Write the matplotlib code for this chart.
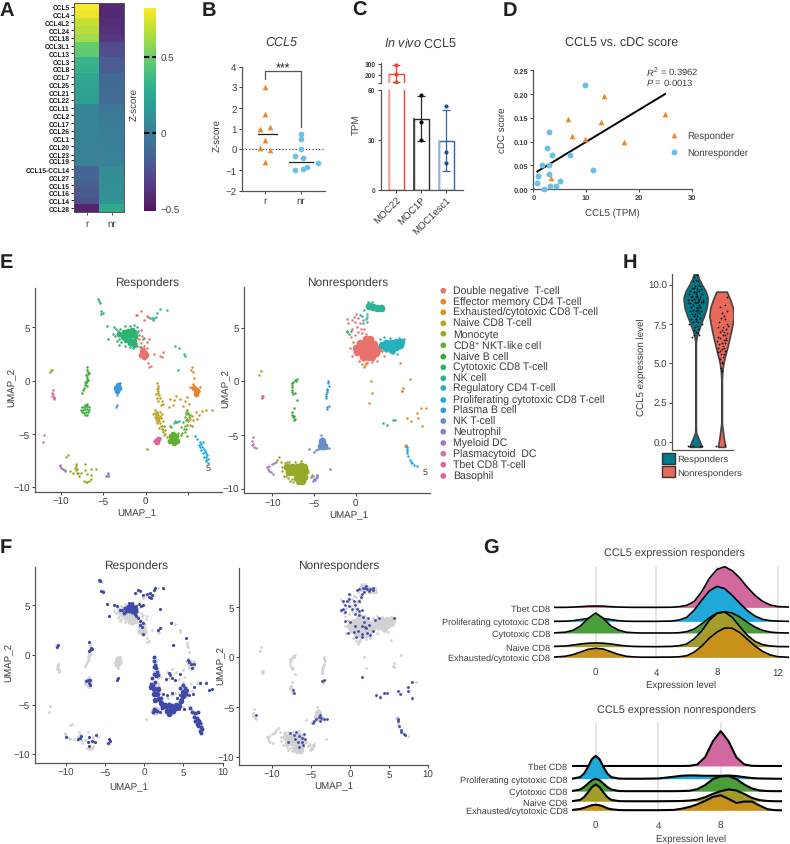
import numpy as np
import matplotlib
matplotlib.use('Agg')
import matplotlib.pyplot as plt
from matplotlib.patches import Patch

plt.rcParams['font.family'] = ['Liberation Sans', 'DejaVu Sans']
plt.rcParams['mathtext.fontset'] = 'custom'
plt.rcParams['mathtext.rm'] = 'Liberation Sans'
plt.rcParams['mathtext.it'] = 'Liberation Sans:italic'
plt.rcParams['text.hinting'] = 'none'

W, H = 790, 845
GREY = '#3d3d3d'

# panel A
ccl_names = ['CCL5', 'CCL4', 'CCL4L2', 'CCL24', 'CCL18', 'CCL3L1', 'CCL13', 'CCL3', 'CCL8', 'CCL7', 'CCL25',
             'CCL21', 'CCL22', 'CCL11', 'CCL2', 'CCL17', 'CCL26', 'CCL1', 'CCL20', 'CCL23', 'CCL19',
             'CCL15-CCL14', 'CCL27', 'CCL15', 'CCL16', 'CCL14', 'CCL28']
ccl_r = [0.80, 0.78, 0.70, 0.66, 0.62, 0.48, 0.47, 0.33, 0.31, 0.24, 0.23, 0.22, 0.21, 0.06, 0.05, 0.05, 0.04,
         0.03, 0.03, 0.02, 0.02, -0.14, -0.14, -0.17, -0.20, -0.23, -0.45]
ccl_nr = [-0.42, -0.42, -0.40, -0.39, -0.36, -0.27, -0.26, -0.18, -0.18, -0.12, -0.11, -0.10, -0.10, -0.03,
          -0.02, -0.01, -0.01, 0.01, 0.01, 0.02, 0.02, 0.09, 0.09, 0.10, 0.11, 0.13, 0.26]

# panel B
b_r = [3.0, 1.7, 1.0, 1.07, 0.47, 0.07, -0.03, -0.6]
b_r_pos = [1, 1, 0.86, 1.14, 1, 0.86, 1.14, 1]
b_nr = [0.72, 0.48, 0.03, -0.32, -0.42, -1.02, -0.97, -0.87, -0.65]
b_nr_pos = [2, 2, 2, 1.83, 2.05, 1.83, 2.05, 2.16, 2.47]
b_r_mean = 0.75
b_nr_mean = -0.63

# panel C
c_names = ['MOC22', 'MOC1P', 'MOC1esc1']
c_means = [205, 42.3, 29.3]
c_low = [135, 29, 11.5]
c_high = [290, 56.5, 48]
c_pts = [[290, 205, 135], [57, 40.5, 29.8], [50, 22.5, 16]]
c_cols = ['#e8483a', '#2b2b2b', '#2f62b0']
c_left = ['#f5a89f', '#444444', '#9dbbe0']
c_dots = ['#e8483a', '#111111', '#1f4e9c']

# panel D
d_r_x = [13.33, 6.63, 7.33, 12.89, 9.79, 17.12, 24.95, 3.35]
d_r_y = [0.196, 0.1475, 0.112, 0.141, 0.105, 0.098, 0.157, 0.024]
d_n_x = [9.85, 3.03, 2.59, 3.6, 7.0, 1.64, 2.9, 0.95, 2.9, 0.63, 1.96, 3.22, 4.36, 5.0, 11.24]
d_n_y = [0.219, 0.119, 0.087, 0.072, 0.072, 0.05, 0.051, 0.027, 0.032, 0.012, 0.0, 0.006, 0.006, 0.017, 0.041]
d_fit_x = [0.76, 24.95]
d_fit_y = [0.037, 0.2]

# panel E legend
cell_types = ['Double negative  T-cell', 'Effector memory CD4 T-cell', 'Exhausted/cytotoxic CD8 T-cell',
              'Naive CD8 T-cell', 'Monocyte', 'CD8$^{+}$ NKT-like cell', 'Naive B cell', 'Cytotoxic CD8 T-cell',
              'NK cell', 'Regulatory CD4 T-cell', 'Proliferating cytotoxic CD8 T-cell', 'Plasma B cell',
              'NK T-cell', 'Neutrophil', 'Myeloid DC', 'Plasmacytoid  DC', 'Tbet CD8 T-cell', 'Basophil']
cell_cols = ['#e9736c', '#e58532', '#de8f1f', '#b9a31f', '#97a928', '#62af33', '#3baa35', '#2fb170', '#2eb39a',
             '#26b0bb', '#13aedf', '#3a9ad9', '#6b8ccb', '#8b7fc0', '#a977b8', '#c871ac', '#dd65a2', '#e2629a']

# responders UMAP, one list per cluster
r_dn = [(0.4, 1.3), (0.6, 1.4), (-1.1, 6.2), (-1, 6.2), (-0.6, 6.5), (0.1, 6.1), (0.3, 6), (-0.2, 5.7), (-1.3, 4.7),
        (-1, 4.5), (-0.5, 4.8), (-0.4, 4.2), (-0.2, 4), (0.4, 3.9), (0.2, 3.6), (-0.8, 3.9), (-0.6, 3.5), (-1, 4),
        (1, 2.5), (1.7, 2.3), (2.1, 2.7), (1.9, 2.2), (-1.2, 3.4), (-0.7, 3.2), (0.3, 1.7), (-0.2, 3.3), (0.1, 3.1)]
r_dn_core = [(-0.4, 2.8), (-0.1, 2.6), (-0.5, 2.4), (-0.2, 2.2), (0, 2.4), (-0.3, 2.9)]
r_em = [(5.45, 1.25), (5.4, 1), (5.6, 0.8), (5.7, 0.3), (5.6, -0.3), (6.4, -0.6), (5.5, -0.7), (5.3, -0.6), (5.7, -0.5), (6.2, -0.8),
        (6.3, -1)]
r_em_core = [(5.7, -0.7), (5.9, -0.9), (6.1, -1.0), (5.95, -1.2)]
r_ex = [(2.9, -1.7), (3.3, -1.8), (3.6, -1.4), (4.1, -1.7), (4.6, -1.9), (4.9, -1.5), (5.1, -2.2), (4.4, -2.4),
        (3.2, -2.3), (7.1, -2.7), (7.9, -2.7), (6.3, -3.2), (6.1, -3.6), (5.6, -3.7), (5.3, -4.1), (5.5, -3.3),
        (2.8, -2.5), (6.7, -2.8), (5.9, -2.9), (5.2, -3.6)]
r_nv = [(1.4, -0.2), (1.5, -0.5), (1.4, -0.8), (1.5, -1), (1.2, -1.2), (1.6, -1.3), (1.3, -1.6), (1.7, -1.6),
        (1.5, -1.9), (1.9, -1.9), (1.8, -2.3), (2.1, -2.2), (1.1, -2.7), (1.4, -2.9), (1.7, -2.9), (0.9, -3.1),
        (1.2, -3.2), (1.5, -3.2), (1.9, -3.1), (1.2, -3.6), (1.5, -3.6), (1.8, -3.5), (2, -3.8), (1.4, -4),
        (1.7, -4), (1.6, -4.4), (1.9, -4.5), (2.1, -4.8), (2.3, -5), (2.5, -5.3), (2.2, -5.1), (1.1, -3.4), (1.7, -3.3),
        (1.6, -3.8), (1.3, -3.4), (2.3, -4.6), (1.35, -3.05), (1.05, -3.0), (1.55, -3.45), (1.9, -4.2), (1.45, -1.1), (1.5, -0.7),
        (1.35, -3.75), (1.8, -4.25), (2.0, -4.6)]
r_mono = [(-8.3, -7.8), (-8.2, -8), (-8.1, -8.3), (-8.3, -8.4), (-8.6, -8.6), (-8.9, -8.5), (-8, -8.6), (-7.9, -8.9),
          (-7.2, -7.8), (-7.2, -8.4), (-6.5, -8.3), (-5.9, -8.3), (-6.9, -8.7), (-6.5, -8.8), (-7.3, -9.4),
          (-7.1, -9.5), (-6.9, -9.5), (-6.7, -9.4), (-6.5, -9.2), (-7.6, -8.6), (-9.2, -7), (-9.4, -7.1),
          (-11.3, 0.8), (-11.2, 1), (-11.1, 1.05), (-8.4, -8.2), (-8.1, -8.6)]
r_nkt = [(3.8, -4.9), (4.2, -5.1), (4.6, -4.8), (4.8, -4.5), (4.9, -4.1), (4.8, -3.7), (5.1, -3.4), (5, -3),
         (5.3, -3.2), (4.8, -2.9), (3, -4.3), (2.9, -4.2), (4.2, -4.3), (2.2, -4.2), (5.5, -4.2), (0.2, -6.4),
         (4.5, -4.5), (4.7, -3.4), (4.4, -3.9), (5, -3.8), (4.9, -2.7), (4.9, -5.2), (4.3, -4.9), (5.05, -3.15), (4.95, -3.55),
         (4.75, -3.1), (4.7, -4.2)]
r_nkt_core = [(3.3, -5.4), (3.0, -5.2), (3.6, -5.2), (2.9, -5.6), (3.3, -5.8), (3.7, -5.6), (3.2, -5.0)]
r_b = [(-6.9, 1.3), (-6.9, 1), (-6.85, 0.8), (-6.8, 0.6), (-6.9, 0.4), (-7, 0.2), (-7, 0), (-7.1, -0.2), (-7.2, -0.4),
       (-7.3, -0.7), (-7.4, -0.9), (-7.0, -0.5), (-7.5, -1.1), (-7.5, -2.5), (-7.2, -2.3), (-6.9, -2.4),
       (-7.0, -2.2), (-6.7, 0.7), (-7.1, 0.5), (-6.8, 0.1), (-7.2, -0.1), (-7.6, -2.7), (-7.4, -2.7), (-7.2, -2.6), (-6.95, -2.6),
       (-6.75, -2.7), (-7.5, -2.95), (-7.3, -3.0), (-7.05, -2.9), (-6.85, -2.95), (-7.2, -3.25), (-6.95, -3.2), (-7.3, -2.45),
       (-7.05, -2.4), (-6.75, -2.5)]
r_cyto = [(-4.6, 5.1), (-3.7, 5), (-4.5, 3.9), (-3.5, 4.9), (-0.8, 4.3), (-1, 3.3), (-0.5, 3.2), (-5.6, 7.7), (-5.5, 7.5),
          (-5.4, 7.3), (-5.3, 6.5), (-5.1, 6.4), (-5.3, 6.3), (-3.4, 3.7), (-3.1, 3.4), (-2.5, 3.3), (-1.9, 3.2),
          (-1.5, 3.1), (-0.3, 3.9), (-3.9, 4.4), (-3.6, 4.2), (-3.3, 4.7), (-3, 4.9), (-2.5, 5.1), (-1.9, 5.15), (-1.4, 5.2), (-1, 5),
          (-3.2, 3.9), (-2.9, 3.6), (-1.1, 3.5), (-0.9, 4.7)]
r_cyto_core = [(-3.1, 4.4), (-2.6, 4.6), (-2.1, 4.7), (-1.6, 4.75), (-1.35, 4.6), (-2.7, 4.1), (-2.2, 4.25), (-1.7, 4.3),
               (-1.25, 4.2), (-2.3, 3.8), (-1.8, 3.85), (-1.35, 3.75), (-1.85, 3.5), (-1.4, 3.4)]
r_nk = [(1, 5.9), (0.7, 5.9), (1.2, 6), (1.3, 6.4), (0.9, 5.7), (1.7, 6.7), (2.5, 6.6), (3.5, 3.3), (3.9, 3.1),
        (4.5, 2.5), (4.6, 2.3), (3.8, 1), (3.7, -3.9), (3.4, -4), (3.9, -3.8), (3.6, -3.9), (3.5, -3.8), (0.5, 5.9)]
r_pro = [(5.8, -5.2), (6.1, -5.5), (6.4, -5.7), (6.8, -5.7), (6.3, -6), (6.7, -6.2), (6.5, -6.5), (6.9, -6.4),
         (6.8, -6.8), (7.1, -6.8), (7.2, -7.1), (6.9, -7.1), (7.4, -7.3), (7.1, -7.5), (7.4, -7.7), (7.0, -6.6),
         (7.3, -7), (6.6, -5.9), (6.4, -6.2), (7.2, -7.4)]
r_pb = [(-3.4, -1.3), (-3.4, -2.3), (-3.5, -2.5), (-3.05, -0.2), (-3.65, -0.55)]
r_pb_core = [(-3.5, -0.7), (-3.3, -0.4), (-3.2, -0.7), (-3.45, -0.95)]
r_neu = [(-4.7, -8.9), (-4.5, -8.9), (-4.4, -8.7), (-4.4, -8.6), (-4.5, -8.95)]
r_mye = [(-10.1, -8), (-10, -8.2), (-9.8, -8.3), (-9.6, -8.4), (-9.5, -8.5), (-10.1, -7.9)]
r_pdc = [(-12, -5.1), (-12.1, -5.7)]
r_tbet = [(-11, -0.9), (-11.1, -1.1), (-11, -1.2), (-10.9, -1.5), (-10.9, -1.6), (-11.1, -1.4), (-10.8, -1.7), (1.0, -5.6), (1.7, -5.4)]
r_tbet_core = [(1.2, -5.6), (1.45, -5.45), (1.4, -5.7)]

# nonresponders UMAP
n_dn = [(0, 6.3), (-0.2, 6), (-1.1, 5.8), (-0.9, 5.4), (-0.5, 5.7), (-0.1, 5.5), (0.3, 5.9), (0.5, 5.4), (0.9, 5.7),
        (0.1, 5.1), (0.6, 4.9), (1, 4.9), (-0.5, 4.9), (0.3, 4.6), (0.8, 4.5), (1.2, 4.4), (-0.1, 4.3), (-0.6, 4.1),
        (-0.3, 3.7), (3.1, 2.8), (3.4, 2.4), (2.6, 1.9), (2, 1.8), (1.3, 1.7), (0.4, 1.9), (-0.5, 2.4), (-0.7, 3.1)]
n_dn_core = [(1.2, 3.9), (1.7, 3.9), (0.5, 3.55), (1, 3.6), (1.6, 3.6), (2.2, 3.5), (0, 3.1), (0.5, 3.1), (1.1, 3.1),
             (1.7, 3.1), (2.3, 3.1), (2.7, 3.0), (0.2, 2.7), (0.7, 2.6), (1.3, 2.6), (1.9, 2.6), (2.4, 2.6),
             (0.9, 2.3), (1.5, 2.25), (2.0, 2.3)]
n_em = [(5.5, -0.9), (5.7, -0.6), (6.5, 0.2), (5.3, 1.7), (0.9, 2), (1.2, 1.7), (0.8, 1.6), (1, 1.3), (6, -6), (5.95, -6.05),
        (6.05, -5.95), (5.6, -0.95), (1.1, 1.5)]
n_ex = [(1.8, 0), (2, -1.1), (1.6, -2), (6.2, -3.4), (6.6, -3.7), (7.5, -3.4), (7.3, -3), (7.8, -2.5), (8.4, -2.5), (8, -4.2)]
n_mono = [(-9.2, -7.1), (-9.5, -7.3), (-9, -7.5), (-8.5, -7.6), (-8.8, -8.4), (-8.6, -8.8), (-8.1, -9), (-7.7, -9.1),
          (-8.9, -8), (-7.5, -9.4), (-5.3, -8.7), (-5.1, -8.8), (-11.6, 0.6), (-11.4, 1), (-5.7, -8.5), (-8.3, -7.5),
          (-8.4, -8.8), (-8, -7.5), (-7.3, -7.5), (-6.6, -7.4), (-7.9, -9.3)]
n_mono_core = [(-8.2, -8), (-7.7, -7.95), (-7.1, -7.95), (-6.6, -7.85), (-6.25, -8), (-8, -8.5), (-7.5, -8.5), (-6.95, -8.5),
               (-6.4, -8.5), (-6.1, -8.4), (-7.1, -9), (-6.6, -9), (-6.25, -8.9), (-6.75, -9.3), (-6.4, -9.3)]
n_b = [(-7.1, 0.2), (-7.3, 0.1), (-7.5, -0.1), (-7.6, -0.3), (-7.7, -0.5), (-7.7, -0.8), (-7.6, -1), (-7.5, -1.2),
       (-7.3, -1.1), (-7, -1.7), (-7.4, -2.5), (-7.6, -2.9), (-7.7, -3.1), (-7.5, -3.3), (-7.4, -3.6), (-7.3, -3.5),
       (-7.4, -3.2), (-7.2, 0), (-7.65, -0.2)]
n_cyto = [(-1.1, 4.6), (-0.8, 4.4), (-1, 4.7), (-0.6, 4.7)]
n_nk = [(3.3, -3.9), (3.8, -4.1), (4.5, -3.6), (4.7, -3.6), (1.3, 6.3), (1.4, 6), (1.2, 5.8), (0.9, 5.4), (1.3, 5.5),
        (0.8, 6.1), (0.5, 6.2), (1.5, 7.4), (1.9, 7.4), (1.0, 6.6), (3.2, 7), (3.3, 6.6), (1.5, 6.8)]
n_nk_core = [(1.6, 7.0), (2.1, 6.95), (2.6, 6.8), (3.0, 6.8)]
n_reg = [(2.9, 3.9), (3.4, 4.1), (4.1, 4), (5.2, 4), (5.8, 3.9), (4.5, 2.6), (4.9, 2.5), (3.6, 2.8)]
n_reg_core = [(3.1, 3.4), (3.6, 3.6), (4.2, 3.6), (4.8, 3.7), (5.4, 3.7), (3.6, 3.1), (4.2, 3.1), (4.8, 3.2), (5.3, 3.4), (4.3, 2.9)]
n_pro = [(6.1, -6.1), (6.2, -6.3), (6.2, -6.7), (6.3, -7), (6.5, -7.3), (6.8, -7.6), (7, -7.8), (7.4, -7.9), (6.15, -6.5), (6.6, -7.5)]
n_pb = [(-3.3, 0), (-3.3, -0.2), (-3.2, -0.4), (-3.4, -0.7), (-3.5, -1), (-3.6, -1.4), (-3.6, -1.6), (-3.5, -2.4),
        (-3.5, -2.6), (-3.2, -2.3), (-3.45, -0.85), (-3.55, -1.2)]
n_nkt = [(-4.2, -5), (-4.1, -5.3), (-4.2, -5.6), (-4, -5.8), (-4.4, -6), (-3.5, -6.2),
         (-3.2, -6.2), (-4.5, -6.3), (-4.8, -6.4), (-5, -6.6), (-5.6, -6.3), (-3.9, -5.6)]
n_nkt_core = [(-4.1, -5.6), (-4.2, -6.0), (-3.85, -6.05)]
n_neu = [(-5.1, -9.3), (-4.8, -9), (-4.6, -8.7), (-5, -9.1), (-4.7, -8.8), (-3.1, -8.2), (-5.4, -8.9), (-4.9, -9.2), (-4.6, -8.9)]
n_mye = [(-10.5, -8.2), (-10.4, -7.9), (-10, -7.7), (-9.6, -7.5), (-10.2, -8.5), (-9.9, -8.6), (-10.6, -8), (-10.4, -8.4), (-9.8, -7.6)]
n_pdc = [(-12.3, -5.2), (-12.4, -5.6), (-12.4, -5.9), (-12.2, -6.1), (-12, -6.2), (-12.3, -5.8)]
n_tbet = [(-11.3, -1.4), (-11.2, -1.5), (-11.1, -1.4), (-11.3, -1.6)]

# F, cells that express CCL5
r_blue = [(-5.8, 7.6), (-5.6, 7.4), (-5.5, 6.4), (-5.3, 6.3), (-1.2, 6.2), (-0.8, 6.5), (-0.5, 6.4), (-0.1, 6.0), (0.3, 6.1),
          (0.6, 5.8), (0.8, 5.7), (0.7, 6.2), (1.2, 6.5), (1.4, 6.7), (2.4, 6.7), (1, 6), (2, 4.6), (-4.7, 5.1), (-4.5, 3.9),
          (-3.8, 5), (-3.5, 4.9), (-2.8, 4.5), (-0.4, 4.9), (-0.1, 5), (-0.5, 3.4),
          (-0.2, 3.2), (-0.6, 3), (-0.3, 2.8), (-0.1, 2.1), (2, 2.7), (1.7, 2.5), (3.4, 3.2), (5.3, 1.7), (3.7, 1),
          (5.7, -0.7), (6, -0.9), (6.3, -0.9), (6.1, -1.3), (5.6, -0.5), (-11, 1), (-11.1, 0.8), (-7, 1.3), (-6.8, 0.7),
          (-6.9, 0.5), (-7, 0.4), (-6.6, 0.6), (-7.2, -2.5), (-6.9, -2.5), (-7.1, -2.8), (-6.9, -3), (-7.4, -2.6),
          (-3.5, -2.5), (-3.4, -2.3), (3.1, -1.8), (3.3, -2), (4.5, -1.9), (3.9, -2.5), (5.5, -3.5),
          (6.2, -3.9), (7.1, -2.8), (7.9, -2.8), (8.2, -3.5), (8.6, -3.4), (3.5, -2.3), (2.8, -2.4), (6.4, -3.2), (5.7, -4),
          (-10, -8.3), (-8.5, -8.5), (-8.2, -8.4), (-7.1, -8.3), (-7.2, -8.8), (-6.6, -8.7), (-6.2, -8.1), (-6.3, -8.8),
          (-4.6, -8.9), (-4.4, -8.7), (-4.5, -8.5), (-7, -9.2), (-8, -8.2), (4.2, -4.3), (4.6, -4), (2.4, -3.9), (3.6, -3.8), (2.9, -4),
          (-1.0, 4.9), (-0.7, 5.1), (-3.1, 4.5), (-2.0, 5.2), (-1.6, 5.2), (-1.1, 3.9), (-0.8, 3.7), (4.4, -5.4), (5.1, -5.4), (2.0, -5.7)]
r_blue_mid = [(-2.5, 4.7), (-2.1, 4.9), (-1.8, 4.9), (-1.5, 5), (-1.3, 4.8), (-1.1, 4.6), (-2.3, 4.4), (-1.9, 4.4), (-1.5, 4.3), (-1, 4.4),
              (-2.6, 4.2), (-1.2, 4.1), (1.2, -0.2), (1.3, -0.6), (1.4, -1), (1.2, -1.2), (1.5, -1.3), (1.6, -1.7), (1.3, -1.9),
              (1.8, -2), (1, -2.3), (1.5, -2.1), (0.8, -2.9), (1.1, -3), (1.4, -2.7), (4.9, -3), (5.2, -3.3), (4.6, -3.3),
              (5.8, -5.3), (6.1, -5.7), (6.5, -5.8), (6.8, -5.7), (6.3, -6.2), (6.7, -6.3), (6.5, -6.7), (6.9, -6.5), (6.7, -7),
              (7.1, -6.9), (7.2, -7.3), (6.9, -7.2), (7.4, -7.5), (7.1, -7.7), (7.2, -7.9), (7, -6.7), (1.1, -5.7), (1.4, -5.5), (1.6, -5.6),
              (1.2, -5.45), (2.1, -4.3), (2.3, -5.3), (2.6, -4.9), (4.1, -4.9), (4.5, -4.7), (4.3, -5.0), (5.3, -3.9), (4.8, -4.3)]
r_blue_core = [(0.9, -3.2), (1.3, -3.4), (1.7, -3.4), (1.2, -3.9), (1.6, -3.9), (1.9, -4.4), (2.2, -4.8), (2.4, -5.1), (2.8, -5.1),
               (3.2, -5.0), (3.6, -5.1), (4, -5.3), (2.9, -5.6), (3.3, -5.5), (3.7, -5.6), (3.2, -5.9), (4.4, -5.1), (4.7, -4.6),
               (5, -4.1), (4.9, -3.7), (5.2, -3.8), (1.4, -4.5), (-2.2, 4.65), (-1.7, 4.7), (-1.4, 4.55)]
n_blue = [(1.7, 7), (1.2, 6.9), (0.9, 6.8), (1.9, 7), (2.2, 6.9), (2.5, 6.9), (2.9, 7), (2.9, 6.8), (2.4, 6.7), (1.8, 6.6), (2, 7.2),
          (1.5, 6.4), (1.4, 6.1), (1.1, 5.7), (0.7, 5.2), (0.9, 4.8), (1.2, 4.6), (1.6, 4.7), (0.5, 5.7), (-0.1, 6.4), (-0.1, 5.9),
          (-0.4, 5.6), (-0.9, 5.7), (-0.6, 5.2), (-0.1, 5.1), (0.2, 4.8), (-0.9, 4.8), (-1.2, 4.7), (-0.6, 4.5), (0.6, 4.3),
          (1.1, 4.2), (1.7, 4), (2.3, 3.9), (3.7, 3.9), (5.6, 3.9), (-0.7, 3.6), (0, 3.5), (0.6, 3.1), (1, 2.6), (1.6, 2.3),
          (2.1, 2.9), (1.8, 3.5), (2.4, 3.2), (2.9, 2.6), (-0.2, 2.4), (0.8, 2), (1.6, 3.1), (0.5, 2.5), (2.6, 2.2), (3.2, 3.7),
          (1.9, 3), (2.2, 2.4), (1.6, 2), (1.6, -2), (3.3, -3.8), (3.8, -4), (4.4, -3.6), (4.7, -3.6), (6.1, -3.4), (6.4, -3.7),
          (7.5, -3.4), (7.4, -3), (7.9, -2.5), (8, -4.1), (-4.3, -6.2), (-4, -6), (-3.7, -6.1), (-3.4, -6.2), (-3, -6.2),
          (-3.8, -5.8), (-4.6, -6.4), (-4.8, -6.6), (-3.9, -6.4), (-12, -5.8), (6.1, -6.2), (6.2, -6.4), (6.3, -6.9), (6.5, -7.3),
          (6.6, -7.5), (6.9, -7.7), (7.1, -7.8), (-3.6, -2.4), (-3.3, -2.3), (-7.3, -3.3), (-7.2, -3.6), (-7.7, -7.6), (-6.9, -7.5),
          (-7.1, -8.2), (-6.7, -8.5), (-6.1, -8.1), (-5.8, -8.2), (-6.2, -8.5), (-6.5, -9), (-6, -8.8), (-8, -8.5), (-7.2, -7.8),
          (-5.9, -7.7), (-6.5, -7.9)]

# panel G, density heights per row
gx_r = [-2.75, -2, -1.5, -1, -0.5, 0, 0.5, 1, 1.5, 2, 2.5, 3, 4, 5, 5.5, 6, 6.5, 7, 7.5, 8, 8.5, 9, 9.5, 10, 10.5, 11, 11.5, 12, 12.75]
gr_tbet = [0, 0, .02, .05, .09, .1, .09, .05, .02, .01, 0, 0, 0, .01, .05, .15, .45, 1.2, 2.2, 2.85, 3.05, 2.75, 2.2, 1.5, .9, .45, .18, .06, .02]
gr_pro = [0, .01, .05, .13, .22, .27, .22, .13, .05, .01, 0, 0, 0, .02, .1, .3, .85, 1.6, 2.3, 2.62, 2.45, 1.95, 1.35, .8, .4, .15, .05, .02, 0]
gr_cyto = [.01, .06, .2, .53, 1.1, 1.5, 1.1, .53, .22, .06, .02, 0, 0, 0, .02, .1, .3, .7, 1.15, 1.5, 1.6, 1.5, 1.2, .8, .45, .2, .07, .02, 0]
gr_nv = [.02, .05, .12, .2, .26, .28, .26, .2, .12, .05, .02, .01, 0, .02, .07, .2, .6, 1.2, 2, 2.5, 2.6, 2.2, 1.5, .85, .4, .15, .05, .01, 0]
gr_ex = [.02, .08, .2, .4, .6, .68, .62, .42, .22, .08, .03, .01, .01, .02, .04, .12, .4, .85, 1.45, 1.9, 2.2, 2.18, 1.85, 1.35, .85, .45, .18, .05, 0]
gx_n = [-1.53, -1, -.75, -.5, -.25, 0, .25, .5, .75, 1, 1.5, 2, 3, 4, 5, 5.5, 6, 6.5, 7, 7.5, 8, 8.5, 9, 9.5, 10, 10.5, 11, 11.5, 11.94]
gn_tbet = [0, 0, 0, 0, 0, 0, 0, 0, 0, 0, 0, 0, 0, 0, 0, 0, .01, .11, .65, 1.84, 2.6, 1.84, .65, .12, .01, 0, 0, 0, 0]
gn_pro = [0, .12, .38, .86, 1.45, 1.7, 1.45, .86, .38, .12, .01, 0, 0, .02, .15, .22, .25, .24, .22, .22, .22, .24, .2, .12, .05, .02, .01, 0, 0]
gn_cyto = [.01, .12, .3, .56, .81, .92, .81, .56, .3, .12, .01, 0, 0, 0, 0, .01, .03, .15, .45, .9, 1.1, 1.12, .9, .5, .2, .05, .01, 0, 0]
gn_nv = [0, .1, .3, .65, 1.05, 1.25, 1.05, .65, .3, .1, .01, 0, 0, 0, .01, .02, .05, .12, .3, .55, .75, .88, .8, .55, .25, .08, .02, 0, 0]
gn_ex = [.02, .1, .18, .28, .38, .42, .38, .28, .15, .08, .02, .01, .01, .01, .03, .12, .25, .45, .7, 1, 1.12, .85, .55, .65, .65, .35, .08, .01, 0]
g_rows = ['Tbet CD8', 'Proliferating cytotoxic CD8', 'Cytotoxic CD8', 'Naive CD8', 'Exhausted/cytotoxic CD8']
g_cols = ['#d1689f', '#1fa9d8', '#4a9e3a', '#a39c2a', '#c8921a']
g_base_r = [3.75, 2.7, 1.825, 0.8, 0]
g_base_n = [3.3, 2.35, 1.425, 0.675, 0]

# panel H
v_r_y = [-0.3, 0, 0.3, 0.6, 1, 6.3, 6.7, 7, 7.5, 8, 8.5, 9, 9.2, 9.6, 10, 10.4, 10.7]
v_r_w = [.23, .17, .09, .02, .01, .01, .04, .09, .2, .32, .42, .46, .46, .38, .24, .12, .06]
v_n_y = [-0.3, 0.3, 1.2, 2, 4, 4.5, 5, 5.5, 6, 6.5, 7, 7.5, 8, 8.5, 9, 9.4, 9.55]
v_n_w = [.14, .08, .012, .012, .012, .03, .07, .14, .22, .29, .36, .42, .47, .44, .34, .24, .2]
h_r_off = [.05, -.05, .02, .1, -.1, .08, -.02, .15, -.15, .04, .2, -.2, .12, -.08, 0, .25, -.25, .06, -.12, .18, -.18, .02, .1, -.06,
           .14, -.14, .28, -.28, .08, -.04, .22, -.22, .01, .12, -.1, .17, -.17, .05, .3, -.3, .09, -.09, .03, .2, -.2, .13, -.13,
           .07, -.07, .16, -.16, .01, .1, -.11, .23, -.24, .05, -.03, .14, -.06, .02, .08, -.08, .12, -.12, .04, -.02, .0, .03, -.05,
           -.3, -.2, .25, .18, -.1]
h_r_val = [10.6, 10.5, 10.3, 10.2, 10.2, 10.0, 9.9, 9.9, 9.8, 9.7, 9.7, 9.6, 9.6, 9.5, 9.5, 9.4, 9.4, 9.3, 9.3, 9.2, 9.2, 9.2, 9.1, 9.1,
           9.0, 9.0, 9.0, 9.0, 8.9, 8.9, 8.9, 8.8, 8.8, 8.7, 8.7, 8.6, 8.6, 8.5, 8.9, 8.8, 8.4, 8.4, 8.3, 8.3, 8.3, 8.2, 8.1, 8.0, 8.0,
           7.9, 7.8, 7.8, 7.6, 7.6, 7.5, 7.5, 7.4, 7.3, 7.2, 7.1, 7.0, 6.9, 6.8, 6.8, 6.7, 8.6, 8.1, 7.7, 9.4, 9.8,
           -0.25, -0.25, -0.25, -0.25, -0.25]
h_n_off = [.2, .12, -.05, .2, .03, .08, -.02, .14, -.1, .2, .25, .05, -.15, .18, .0, .1, -.08, .22, .12, .05, -.12, .15, -.05, .08, .18,
           -.18, .0, .12, -.1, .05, -.15, .1, .02, -.05, .13, -.12, .08, -.02, .05, -.08, .03, .01, -.03, .0, -.2, .14]
h_n_val = [9.2, 8.7, 8.6, 8.3, 8.2, 8.0, 7.9, 7.8, 7.6, 7.5, 7.4, 7.3, 7.3, 7.2, 7.1, 7.0, 7.0, 6.9, 6.8, 6.8, 6.7, 6.6, 6.6, 6.5, 6.5, 6.4,
           6.3, 6.3, 6.2, 6.1, 6.0, 6.0, 5.9, 5.8, 5.8, 5.7, 5.6, 5.6, 5.4, 5.3, 5.1, 5.0, 4.7, 4.5, -0.25, -0.2]

fig = plt.figure(figsize=(W / 100, H / 100), dpi=100, facecolor='white')


def box(x0, y0, x1, y1):
    return fig.add_axes([x0 / W, 1 - y1 / H, (x1 - x0) / W, (y1 - y0) / H])


def txt(x, y, s, size=7.5, ha='center', va='center', **kw):
    kw.setdefault('color', GREY)
    fig.text(x / W, 1 - y / H, s, fontsize=size, ha=ha, va=va, **kw)


def clean(ax, size=7, lw=0.9, col='#555555'):
    ax.spines['top'].set_visible(False)
    ax.spines['right'].set_visible(False)
    ax.spines['left'].set_color(col)
    ax.spines['bottom'].set_color(col)
    ax.spines['left'].set_linewidth(lw)
    ax.spines['bottom'].set_linewidth(lw)
    ax.patch.set_alpha(0)
    ax.tick_params(labelsize=size, length=2.2, width=0.7, pad=1.5, colors=GREY)


for letter, lx, ly in [('A', 0, 11), ('B', 202, 11), ('C', 352, 11), ('D', 503, 11), ('E', 0, 263), ('F', 0, 548),
                       ('G', 483, 549), ('H', 623, 263)]:
    txt(lx, ly, letter, size=14.5, ha='left', weight='bold', color='#231f20')

# A heatmap
ax = box(74, 4, 124, 213)
im = ax.imshow(np.array([ccl_r, ccl_nr]).T, cmap='viridis', vmin=-0.51, vmax=0.82, aspect='auto', alpha=0.93)
ax.set_xticks([0, 1])
ax.set_xticklabels(['r', 'nr'])
pos = np.arange(len(ccl_names), dtype=float)
pos[19] += 0.1
pos[20] -= 0.2
ax.set_yticks(pos)
ax.set_yticklabels(ccl_names, fontsize=4.8, weight='bold', color='#1a1a1a')
ax.tick_params(axis='y', length=2, width=0.6, pad=1)
ax.tick_params(axis='x', labelsize=7, length=2.2, width=0.6, pad=2.5, colors=GREY)
for s in ax.spines.values():
    s.set_color('#555555')
    s.set_linewidth(0.7)

cax = box(144, 9, 156, 212)
cb = fig.colorbar(im, cax=cax, ticks=[-0.5, 0, 0.5])
cb.outline.set_visible(False)
cb.ax.set_yticklabels(['\u22120.5', '0', '0.5'], fontsize=7, color=GREY)
cb.ax.tick_params(length=0, pad=3)
cb.ax.hlines([0, 0.5], 0, 1, colors='black', linewidth=1.5, linestyles=(0, (2.5, 1.5)))
txt(134, 104, 'Z-score', size=7, rotation=90)

# B
ax = box(241.7, 67.7, 325, 191.7)
clean(ax)
ax.scatter(b_r_pos, b_r, marker='^', s=17, color='#ec8a2a', linewidths=0, zorder=3)
ax.scatter(b_nr_pos, b_nr, marker='o', s=17, color='#6cc0e8', linewidths=0, zorder=3)
ax.plot([0.82, 1.33], [b_r_mean, b_r_mean], color='#222222', lw=0.9)
ax.plot([1.67, 2.35], [b_nr_mean, b_nr_mean], color='#222222', lw=0.9)
ax.axhline(0, color='#333333', lw=0.8, ls=(0, (1, 2)))
ax.plot([1, 1, 2, 2], [3.4, 3.77, 3.77, 1.1], color='#555555', lw=0.9)
ax.text(1.5, 3.92, '***', ha='center', va='center', fontsize=9, color='#222222')
ax.set_xlim(0.353, 2.67)
ax.set_ylim(-2, 4)
ax.set_xticks([1, 2])
ax.set_xticklabels(['r', 'nr'])
ax.set_yticks([-2, -1, 0, 1, 2, 3, 4])
ax.set_yticklabels(['\u22122', '\u22121', '0', '1', '2', '3', '4'])
txt(217, 135, 'Z-score', size=7, rotation=90)
txt(281, 43, 'CCL5', size=9, style='italic')

# C broken axis
top = box(380.7, 64.3, 463, 84)
low = box(380.7, 90.7, 463, 190.7)
for a in (top, low):
    clean(a, size=4.8)
    a.set_xlim(-0.63, 2.66)
    for i in range(3):
        a.bar(i, c_means[i], width=0.62, facecolor='white', edgecolor=c_cols[i], linewidth=1.0)
        a.plot([i - 0.31, i - 0.31], [0, c_means[i]], color=c_left[i], lw=1.3)
        a.errorbar(i, c_means[i], yerr=[[c_means[i] - c_low[i]], [c_high[i] - c_means[i]]], color=c_cols[i],
                   capsize=3.2, elinewidth=0.9, capthick=0.9)
        a.scatter([i] * 3, c_pts[i], s=9, color=c_dots[i], zorder=4, linewidths=0)
top.set_ylim(122, 305)
top.spines['bottom'].set_visible(False)
top.set_xticks([])
top.set_yticks([122, 200, 300])
top.set_yticklabels(['', '200', '300'], weight='bold')
low.set_ylim(0, 60)
low.set_yticks([0, 30, 60])
low.set_yticklabels(['0', '30', '60'], weight='bold')
low.set_xticks([0, 1, 2])
low.set_xticklabels(c_names, rotation=45, ha='right', rotation_mode='anchor', fontsize=7)
txt(356, 125, 'TPM', size=7, rotation=90)
txt(421, 44, '$\\mathit{In\\ vivo}$ CCL5', size=9)

# D
ax = box(533.3, 71.3, 691.7, 190)
clean(ax, size=5.4)
ax.plot(d_fit_x, d_fit_y, color='black', lw=1.4, zorder=2)
ax.scatter(d_r_x, d_r_y, marker='^', s=17, color='#ec8a2a', linewidths=0, zorder=3, clip_on=False, label='Responder')
ax.scatter(d_n_x, d_n_y, marker='o', s=18, color='#6cc0e8', linewidths=0, zorder=3, clip_on=False, label='Nonresponder')
ax.set_xlim(0, 30)
ax.set_ylim(0, 0.25)
ax.set_xticks([0, 10, 20, 30])
ax.set_yticks([0, 0.05, 0.1, 0.15, 0.2, 0.25])
ax.set_yticklabels(['0.00', '0.05', '0.10', '0.15', '0.20', '0.25'], weight='bold')
ax.set_xticklabels(['0', '10', '20', '30'], weight='bold')
ax.legend(loc='upper left', bbox_to_anchor=(0.80, 0.535), frameon=False, fontsize=6.9, labelspacing=0.85,
          handletextpad=0.3, borderpad=0, labelcolor=GREY)
txt(612, 213, 'CCL5 (TPM)', size=7)
txt(503, 130, 'cDC score', size=7, rotation=90)
txt(622, 43, 'CCL5 vs. cDC score', size=9)
txt(646, 72, '$\\mathit{R}^{2}$ = 0.3962', size=6.8, ha='left')
txt(646, 83, '$\\mathit{P}$ = 0.0013', size=6.8, ha='left')

# E and F, colour index per cluster
r_sets = [(r_dn, 0), (r_em, 1), (r_ex, 2), (r_nv, 3), (r_mono, 4), (r_nkt, 5), (r_b, 6), (r_cyto, 7), (r_nk, 8), (r_pro, 10),
          (r_pb, 11), (r_neu, 13), (r_mye, 14), (r_pdc, 15), (r_tbet, 16)]
r_cores = [(r_cyto_core, 7), (r_dn_core, 0), (r_em_core, 1), (r_nkt_core, 5), (r_pb_core, 11), (r_tbet_core, 16)]
n_sets = [(n_cyto, 7), (n_dn, 0), (n_em, 1), (n_ex, 2), (n_mono, 4), (n_b, 6), (n_nk, 8), (n_reg, 9), (n_pro, 10), (n_pb, 11),
          (n_nkt, 12), (n_neu, 13), (n_mye, 14), (n_pdc, 15), (n_tbet, 16)]
n_cores = [(n_dn_core, 0), (n_reg_core, 9), (n_mono_core, 4), (n_nk_core, 8), (n_nkt_core, 12)]


def umap(ax, sets, cores, core_s, grey=False, dot=3.2):
    for pts, c in sets:
        p = np.array(pts)
        ax.scatter(p[:, 0], p[:, 1], s=dot, color='#d2d2d2' if grey else cell_cols[c], linewidths=0)
    for pts, c in cores:
        p = np.array(pts)
        ax.scatter(p[:, 0], p[:, 1], s=core_s, color='#d2d2d2' if grey else cell_cols[c], linewidths=0)


ax = box(35, 289, 221.7, 492.7)
clean(ax)
umap(ax, r_sets, r_cores, 17)
ax.set_xlim(-13.1, 9.0)
ax.set_ylim(-10.4, 8.7)
ax.set_xticks([-10, -5, 0, 5])
ax.set_xticklabels(['\u221210', '\u22125', '0', ''])
ax.set_yticks([-10, -5, 0, 5])
txt(208, 469, '5', size=6.5)
txt(147, 283, 'Responders', size=8.6)
txt(137, 513, 'UMAP_1', size=7)
txt(12, 387, 'UMAP_2', size=7, rotation=90)

ax = box(244, 288, 430, 494.3)
clean(ax)
umap(ax, n_sets, n_cores, 30)
ax.set_xlim(-13.4, 8.9)
ax.set_ylim(-10.44, 8.79)
ax.set_xticks([-10, -5, 0])
ax.set_xticklabels(['\u221210', '\u22125', '0'])
ax.set_yticks([-10, -5, 0, 5])
txt(425, 473, '5', size=6.5)
txt(348, 283, 'Nonresponders', size=8.6)
txt(349, 515, 'UMAP_1', size=7)
txt(226, 388, 'UMAP_2', size=7, rotation=90)

# legend rows, y in figure pixels
leg = box(437, 285, 640, 485)
leg.set_axis_off()
leg.set_xlim(437, 640)
leg.set_ylim(485, 285)
row_y = [291.7, 302.7, 313.3, 324.3, 334.7, 346.3, 357.7, 368.3, 379.3, 389, 401, 411.3, 422, 432.7, 444, 454.7, 465.7, 477]
leg.scatter([443.3] * 18, row_y, s=17, c=cell_cols, linewidths=0)
for label, yy in zip(cell_types, row_y):
    leg.text(453.3, yy, label, fontsize=7.6, va='center', ha='left', color=GREY)

BLUE = '#3f4aa8'
ax = box(34.7, 568, 222.7, 764)
clean(ax)
umap(ax, r_sets, r_cores, 22, grey=True, dot=4)
p = np.array(r_blue)
ax.scatter(p[:, 0], p[:, 1], s=5, color=BLUE, linewidths=0)
p = np.array(r_blue_mid)
ax.scatter(p[:, 0], p[:, 1], s=8, color=BLUE, linewidths=0)
p = np.array(r_blue_core)
ax.scatter(p[:, 0], p[:, 1], s=16, color=BLUE, linewidths=0)
ax.set_xlim(-13.96, 10)
ax.set_ylim(-10.88, 8.86)
ax.set_xticks([-10, -5, 0, 5, 10])
ax.set_xticklabels(['\u221210', '\u22125', '0', '5', '10'])
ax.set_yticks([-10, -5, 0, 5])
txt(136, 566, 'Responders', size=8.6)
txt(129, 787, 'UMAP_1', size=7)
txt(9, 662, 'UMAP_2', size=7, rotation=90)

ax = box(239.3, 569, 428.3, 765.7)
clean(ax)
umap(ax, n_sets, n_cores, 28, grey=True, dot=4)
p = np.array(n_blue)
ax.scatter(p[:, 0], p[:, 1], s=4, color=BLUE, linewidths=0)
ax.set_xlim(-14.2, 10.04)
ax.set_ylim(-10.77, 8.96)
ax.set_xticks([-10, -5, 0, 5, 10])
ax.set_xticklabels(['\u221210', '\u22125', '0', '5', '10'])
ax.set_yticks([-10, -5, 0, 5])
txt(339, 566, 'Nonresponders', size=8.6)
txt(334, 786, 'UMAP_1', size=7)
txt(221, 665, 'UMAP_2', size=7, rotation=90)


# G ridges
def ridges(ax, x, rows, bases, lw):
    for i in range(5):
        y = np.array(rows[i]) + bases[i]
        ax.fill_between(x, bases[i], y, color=g_cols[i], linewidth=0, zorder=2 + i)
        ax.plot(x, y, color='black', lw=lw, zorder=2 + i, solid_capstyle='round')
    ax.set_yticks(bases)
    ax.set_yticklabels(g_rows, fontsize=6.6, color=GREY)
    ax.grid(axis='x', color='#e3e3e3', lw=1.3, zorder=0)
    ax.set_axisbelow(True)
    ax.tick_params(length=0, pad=3)
    ax.tick_params(axis='x', labelsize=7, colors=GREY, pad=6)
    for s in ax.spines.values():
        s.set_visible(False)
    ax.patch.set_alpha(0)


ax = box(554, 566.7, 789, 660)
ridges(ax, gx_r, [gr_tbet, gr_pro, gr_cyto, gr_nv, gr_ex], g_base_r, 1.2)
ax.set_xlim(-2.75, 12.74)
ax.set_ylim(-0.125, 6.875)
ax.set_xticks([0, 4, 8, 12])
txt(674, 554, 'CCL5 expression responders', size=7.8)
txt(681, 685, 'Expression level', size=6.9)

ax = box(571.7, 723.3, 782.3, 813)
ridges(ax, gx_n, [gn_tbet, gn_pro, gn_cyto, gn_nv, gn_ex], g_base_n, 1.5)
ax.set_xlim(-1.535, 11.94)
ax.set_ylim(-0.125, 6.55)
ax.set_xticks([0, 4, 8])
txt(676, 711, 'CCL5 expression nonresponders', size=7.8)
txt(691, 839, 'Expression level', size=6.9)

# H violins
ax = box(672.3, 275, 733.3, 451)
clean(ax)
ax.fill_betweenx(v_r_y, 1 - np.array(v_r_w), 1 + np.array(v_r_w), facecolor='#007a8a', edgecolor='#444444', lw=1.2)
ax.fill_betweenx(v_n_y, 2 - np.array(v_n_w), 2 + np.array(v_n_w), facecolor='#e8685a', edgecolor='#444444', lw=1.2)
ax.scatter(1 + np.array(h_r_off), h_r_val, s=1.6, color='black', linewidths=0, zorder=4)
ax.scatter(2 + np.array(h_n_off), h_n_val, s=1.6, color='black', linewidths=0, zorder=4)
ax.set_xlim(0.103, 2.45)
ax.set_ylim(-0.5, 10.67)
ax.set_xticks([])
ax.set_yticks([0, 2.5, 5, 7.5, 10])
ax.set_yticklabels(['0.0', '2.5', '5.0', '7.5', '10.0'])
txt(641, 367, 'CCL5 expression level', size=7, rotation=90)
patches = [Patch(facecolor='#007a8a', edgecolor='#333333', lw=1), Patch(facecolor='#e8685a', edgecolor='#333333', lw=1)]
fig.legend(patches, ['Responders', 'Nonresponders'], loc='upper left', bbox_to_anchor=(661.5 / W, 1 - 454 / H), frameon=False,
           fontsize=6.8, handlelength=1.4, handleheight=1.4, labelspacing=0.25, handletextpad=0.3, borderpad=0,
           borderaxespad=0, labelcolor=GREY)

plt.savefig('out.png', dpi=100, facecolor='white')
